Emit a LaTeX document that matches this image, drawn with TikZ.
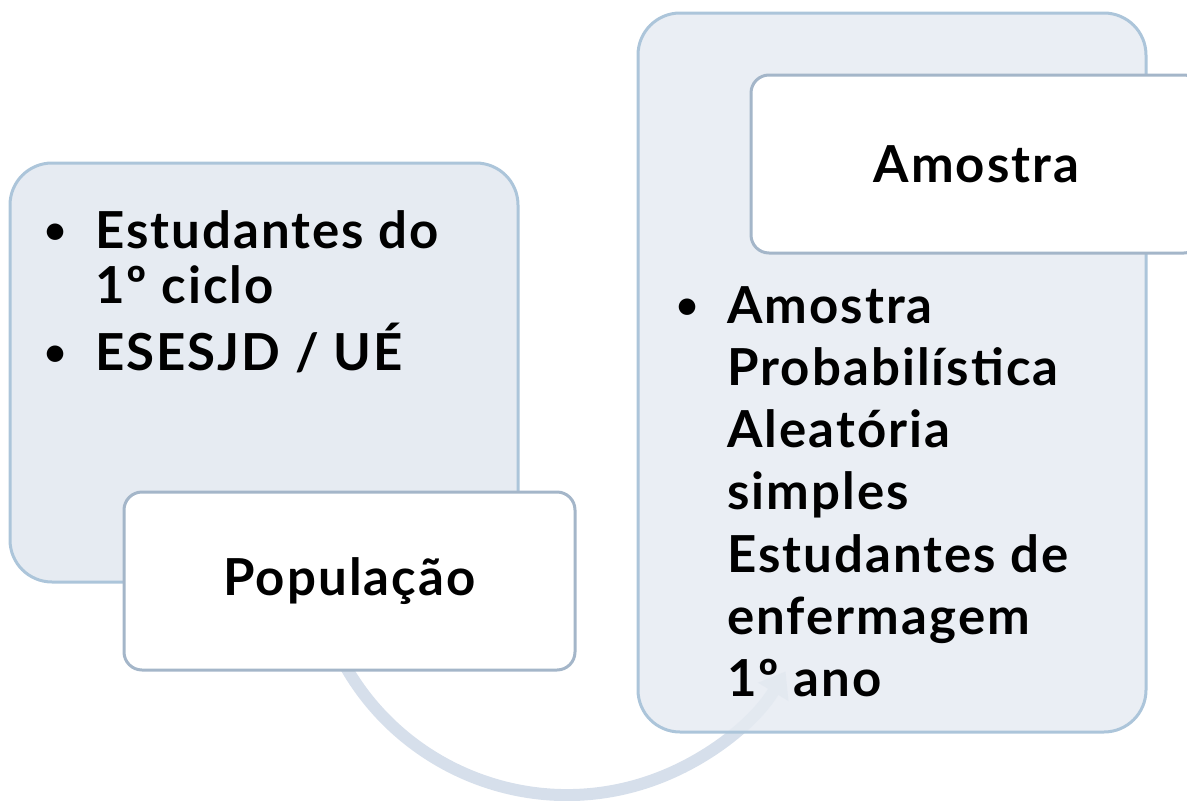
\documentclass[tikz,border=0pt]{standalone}
\usepackage{fontspec}
\setmainfont{Lato}[LetterSpace=4]
\usetikzlibrary{arrows.meta}
\definecolor{boxfill}{RGB}{230,235,242}
\definecolor{boxline}{RGB}{172,197,218}
\definecolor{tagline}{RGB}{164,182,201}
\definecolor{arcblue}{RGB}{214,223,235}
\tikzset{
    bigbox/.style={draw=boxline,line width=3pt,fill=boxfill,rounded corners=42pt,
        minimum width=508pt,inner sep=0pt},
    tagbox/.style={draw=tagline,line width=3pt,fill=white,rounded corners=18pt,
        minimum width=451pt,minimum height=178pt,inner sep=0pt,
        font=\fontsize{51}{55}\selectfont\bfseries},
    itemtext/.style={anchor=base west,inner sep=0pt,font=\fontsize{51}{55}\selectfont\bfseries},
    dot/.style={anchor=base,inner sep=0pt,font=\fontsize{38}{40}\selectfont\bfseries},
    arcarrow/.style={draw=arcblue,line width=12pt,-{Triangle[length=24pt,width=34pt]}}
}
\begin{document}
\begin{tikzpicture}[x=1pt,y=-1pt]
    \useasboundingbox (0,0) rectangle (1187,801);
    \clip (0,0) rectangle (1187,801);
    % left side
    \node[bigbox,minimum height=419pt] (popbox) at (264,372.5) {};
    \coordinate (arcc) at (567,540);
    \draw[arcarrow] (arcc) ++(160:255) arc (160:31:255);
    \node[tagbox] (poptag) at (349.5,581) {População};
    \foreach \y in {243,365} {
        \node[dot] at (55.5,\y) {\textbullet};
    }
    \node[itemtext] (pop1) at (95,248) {Estudantes do};
    \node[itemtext] (pop2) at (95,303) {1º ciclo};
    \node[itemtext] (pop3) at (95,370) {ESESJD / UÉ};
    % right side
    \node[bigbox,minimum height=719pt,fill opacity=0.85] (sampbox) at (892,372.5) {};
    \node[tagbox] (samptag) at (976.5,164) {Amostra};
    \node[dot] at (688,318) {\textbullet};
    \foreach \txt [count=\i] in {Amostra,Probabilística,Aleatória,simples,Estudantes de,enfermagem,1º ano} {
        \node[itemtext] (samp\i) at (727,{323+62.3*(\i-1)}) {\txt};
    }
\end{tikzpicture}
\end{document}
